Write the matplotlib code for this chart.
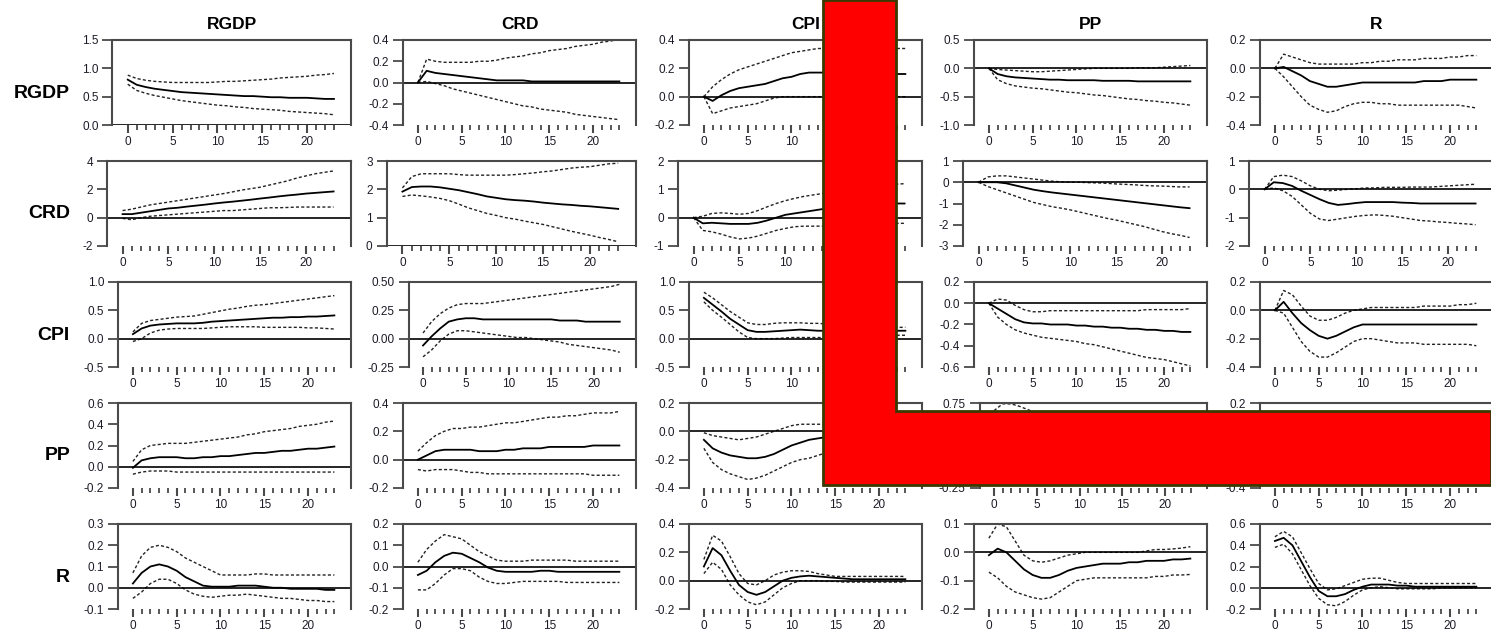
import numpy as np
import matplotlib.pyplot as plt
from matplotlib.patches import Polygon

plt.rcParams['font.family'] = ['Liberation Sans', 'DejaVu Sans']

variables = ['RGDP', 'CRD', 'CPI', 'PP', 'R']
steps = list(range(24))

# ---- row RGDP ----
rgdp_rgdp    = [0.80,0.71,0.67,0.64,0.62,0.60,0.58,0.57,0.56,0.55,0.54,0.53,0.52,0.51,0.51,0.50,0.49,0.49,0.48,0.48,0.48,0.47,0.46,0.46]
rgdp_rgdp_hi = [0.88,0.82,0.79,0.77,0.76,0.75,0.75,0.75,0.75,0.75,0.76,0.77,0.77,0.78,0.79,0.80,0.81,0.83,0.84,0.85,0.86,0.88,0.89,0.91]
rgdp_rgdp_lo = [0.72,0.61,0.56,0.52,0.49,0.46,0.43,0.41,0.39,0.37,0.35,0.34,0.32,0.31,0.29,0.28,0.27,0.26,0.24,0.23,0.22,0.21,0.20,0.18]

rgdp_crd    = [0.0,0.11,0.09,0.08,0.07,0.06,0.05,0.04,0.03,0.02,0.02,0.02,0.02,0.01,0.01,0.01,0.01,0.01,0.01,0.01,0.01,0.01,0.01,0.01]
rgdp_crd_hi = [0.0,0.22,0.20,0.19,0.19,0.19,0.19,0.20,0.20,0.21,0.23,0.24,0.25,0.27,0.28,0.30,0.31,0.32,0.34,0.35,0.36,0.38,0.39,0.41]
rgdp_crd_lo = [0.0,0.01,-0.01,-0.03,-0.06,-0.08,-0.10,-0.12,-0.14,-0.16,-0.18,-0.20,-0.22,-0.23,-0.25,-0.26,-0.27,-0.28,-0.30,-0.31,-0.32,-0.33,-0.34,-0.35]

rgdp_cpi    = [0.0,-0.03,0.01,0.04,0.06,0.07,0.08,0.09,0.11,0.13,0.14,0.16,0.17,0.17,0.17,0.17,0.17,0.17,0.17,0.17,0.17,0.17,0.16,0.16]
rgdp_cpi_hi = [0.0,0.07,0.12,0.16,0.19,0.21,0.23,0.25,0.27,0.29,0.31,0.32,0.33,0.34,0.34,0.34,0.35,0.35,0.35,0.35,0.35,0.35,0.34,0.34]
rgdp_cpi_lo = [0.0,-0.12,-0.10,-0.08,-0.07,-0.06,-0.05,-0.03,-0.01,0.0,0.0,0.0,0.0,0.0,0.0,0.0,0.0,0.0,0.0,0.0,0.0,0.0,0.0,0.0]

rgdp_pp    = [0.0,-0.10,-0.14,-0.16,-0.17,-0.18,-0.19,-0.20,-0.20,-0.21,-0.21,-0.21,-0.21,-0.22,-0.22,-0.22,-0.22,-0.23,-0.23,-0.23,-0.23,-0.23,-0.23,-0.23]
rgdp_pp_hi = [0.0,-0.02,-0.03,-0.04,-0.05,-0.06,-0.06,-0.05,-0.04,-0.03,-0.02,-0.01,0.0,0.0,0.0,0.0,0.0,0.01,0.01,0.01,0.02,0.03,0.04,0.05]
rgdp_pp_lo = [0.0,-0.20,-0.27,-0.31,-0.33,-0.35,-0.36,-0.38,-0.40,-0.42,-0.43,-0.45,-0.47,-0.48,-0.50,-0.52,-0.54,-0.55,-0.57,-0.58,-0.60,-0.61,-0.63,-0.65]

rgdp_r    = [0.0,0.01,-0.02,-0.05,-0.09,-0.11,-0.13,-0.13,-0.12,-0.11,-0.10,-0.10,-0.10,-0.10,-0.10,-0.10,-0.10,-0.09,-0.09,-0.09,-0.08,-0.08,-0.08,-0.08]
rgdp_r_hi = [0.0,0.10,0.08,0.06,0.04,0.03,0.03,0.03,0.03,0.03,0.04,0.04,0.05,0.05,0.06,0.06,0.06,0.07,0.07,0.07,0.08,0.08,0.09,0.09]
rgdp_r_lo = [0.0,-0.06,-0.13,-0.20,-0.26,-0.29,-0.31,-0.30,-0.27,-0.25,-0.24,-0.24,-0.25,-0.25,-0.26,-0.26,-0.26,-0.26,-0.26,-0.26,-0.26,-0.26,-0.27,-0.28]

# ---- row CRD ----
crd_rgdp    = [0.25,0.25,0.35,0.45,0.55,0.65,0.70,0.78,0.85,0.92,1.00,1.07,1.13,1.20,1.27,1.35,1.42,1.50,1.57,1.63,1.70,1.75,1.80,1.85]
crd_rgdp_hi = [0.50,0.60,0.75,0.90,1.00,1.10,1.20,1.30,1.40,1.50,1.60,1.70,1.82,1.95,2.05,2.15,2.30,2.45,2.60,2.80,2.95,3.10,3.20,3.30]
crd_rgdp_lo = [-0.05,-0.15,0.0,0.10,0.15,0.20,0.25,0.30,0.35,0.40,0.45,0.50,0.50,0.55,0.60,0.65,0.70,0.70,0.72,0.75,0.75,0.75,0.75,0.75]

crd_crd    = [1.92,2.08,2.10,2.10,2.07,2.02,1.97,1.90,1.83,1.75,1.70,1.65,1.62,1.60,1.57,1.53,1.50,1.47,1.45,1.42,1.40,1.37,1.34,1.31]
crd_crd_hi = [2.05,2.45,2.55,2.55,2.55,2.55,2.52,2.50,2.50,2.50,2.50,2.50,2.52,2.55,2.58,2.62,2.65,2.70,2.75,2.78,2.80,2.85,2.90,2.92]
crd_crd_lo = [1.75,1.80,1.77,1.73,1.68,1.60,1.48,1.35,1.25,1.15,1.08,1.00,0.95,0.88,0.82,0.76,0.68,0.60,0.52,0.45,0.38,0.30,0.23,0.15]

crd_cpi    = [0.0,-0.20,-0.18,-0.20,-0.22,-0.22,-0.22,-0.18,-0.10,0.0,0.10,0.15,0.20,0.25,0.30,0.35,0.40,0.43,0.45,0.47,0.50,0.50,0.50,0.50]
crd_cpi_hi = [0.0,0.05,0.15,0.17,0.15,0.12,0.15,0.25,0.38,0.50,0.60,0.68,0.75,0.80,0.85,0.90,0.95,1.00,1.05,1.10,1.12,1.15,1.18,1.20]
crd_cpi_lo = [0.0,-0.45,-0.50,-0.58,-0.68,-0.75,-0.72,-0.65,-0.55,-0.45,-0.38,-0.32,-0.30,-0.30,-0.30,-0.28,-0.27,-0.25,-0.24,-0.22,-0.20,-0.20,-0.20,-0.20]

crd_pp    = [0.0,0.0,0.0,-0.05,-0.15,-0.25,-0.35,-0.42,-0.48,-0.53,-0.58,-0.63,-0.68,-0.73,-0.78,-0.83,-0.88,-0.93,-0.98,-1.03,-1.08,-1.13,-1.18,-1.22]
crd_pp_hi = [0.0,0.25,0.30,0.30,0.25,0.20,0.15,0.10,0.05,0.02,0.0,0.0,-0.02,-0.03,-0.05,-0.08,-0.10,-0.12,-0.15,-0.17,-0.18,-0.20,-0.22,-0.22]
crd_pp_lo = [0.0,-0.20,-0.35,-0.50,-0.65,-0.80,-0.95,-1.05,-1.15,-1.22,-1.30,-1.40,-1.50,-1.60,-1.70,-1.78,-1.88,-1.98,-2.08,-2.20,-2.32,-2.42,-2.50,-2.60]

crd_r    = [0.0,0.25,0.22,0.12,-0.05,-0.20,-0.35,-0.48,-0.55,-0.52,-0.48,-0.45,-0.45,-0.45,-0.45,-0.47,-0.48,-0.50,-0.50,-0.50,-0.50,-0.50,-0.50,-0.50]
crd_r_hi = [0.0,0.45,0.50,0.45,0.30,0.12,0.0,-0.05,-0.03,0.0,0.02,0.05,0.05,0.07,0.07,0.07,0.08,0.08,0.08,0.10,0.12,0.14,0.16,0.18]
crd_r_lo = [0.0,0.05,-0.05,-0.25,-0.55,-0.85,-1.05,-1.10,-1.05,-1.00,-0.95,-0.92,-0.90,-0.92,-0.95,-1.00,-1.05,-1.10,-1.12,-1.15,-1.17,-1.20,-1.22,-1.25]

# ---- row CPI ----
cpi_rgdp    = [0.08,0.18,0.23,0.25,0.26,0.27,0.27,0.27,0.28,0.30,0.31,0.32,0.33,0.34,0.35,0.36,0.37,0.37,0.38,0.38,0.39,0.39,0.40,0.41]
cpi_rgdp_hi = [0.12,0.27,0.32,0.34,0.36,0.38,0.39,0.40,0.43,0.46,0.49,0.52,0.54,0.57,0.59,0.60,0.62,0.64,0.66,0.68,0.70,0.72,0.74,0.76]
cpi_rgdp_lo = [-0.05,0.0,0.10,0.15,0.17,0.18,0.18,0.18,0.18,0.19,0.20,0.21,0.21,0.21,0.21,0.20,0.20,0.20,0.20,0.20,0.19,0.19,0.18,0.17]

cpi_crd    = [-0.06,0.02,0.09,0.15,0.17,0.18,0.18,0.17,0.17,0.17,0.17,0.17,0.17,0.17,0.17,0.17,0.16,0.16,0.16,0.15,0.15,0.15,0.15,0.15]
cpi_crd_hi = [0.05,0.15,0.22,0.27,0.30,0.31,0.31,0.31,0.32,0.33,0.34,0.35,0.36,0.37,0.38,0.39,0.40,0.41,0.42,0.43,0.44,0.45,0.46,0.48]
cpi_crd_lo = [-0.16,-0.10,-0.02,0.04,0.07,0.07,0.06,0.05,0.04,0.03,0.02,0.01,0.01,0.0,-0.01,-0.02,-0.03,-0.05,-0.06,-0.07,-0.08,-0.09,-0.10,-0.12]

cpi_cpi    = [0.72,0.60,0.48,0.35,0.25,0.15,0.12,0.12,0.13,0.14,0.15,0.16,0.15,0.14,0.14,0.14,0.14,0.14,0.14,0.14,0.14,0.14,0.14,0.14]
cpi_cpi_hi = [0.82,0.72,0.60,0.48,0.38,0.28,0.25,0.25,0.27,0.28,0.28,0.28,0.27,0.27,0.26,0.26,0.25,0.25,0.24,0.24,0.23,0.22,0.20,0.20]
cpi_cpi_lo = [0.65,0.50,0.38,0.25,0.12,0.02,0.0,0.0,0.0,0.01,0.02,0.02,0.02,0.02,0.02,0.03,0.03,0.03,0.04,0.04,0.05,0.05,0.06,0.06]

cpi_pp    = [0.0,-0.05,-0.10,-0.15,-0.18,-0.19,-0.19,-0.20,-0.20,-0.20,-0.21,-0.21,-0.22,-0.22,-0.23,-0.23,-0.24,-0.24,-0.25,-0.25,-0.26,-0.26,-0.27,-0.27]
cpi_pp_hi = [0.0,0.04,0.03,-0.02,-0.06,-0.08,-0.08,-0.07,-0.07,-0.07,-0.07,-0.07,-0.07,-0.07,-0.07,-0.07,-0.07,-0.07,-0.06,-0.06,-0.06,-0.06,-0.06,-0.05]
cpi_pp_lo = [0.0,-0.13,-0.20,-0.25,-0.28,-0.30,-0.32,-0.33,-0.34,-0.35,-0.36,-0.38,-0.39,-0.41,-0.43,-0.45,-0.47,-0.49,-0.51,-0.52,-0.53,-0.55,-0.57,-0.59]

cpi_r    = [0.0,0.06,-0.02,-0.09,-0.14,-0.18,-0.20,-0.18,-0.15,-0.12,-0.10,-0.10,-0.10,-0.10,-0.10,-0.10,-0.10,-0.10,-0.10,-0.10,-0.10,-0.10,-0.10,-0.10]
cpi_r_hi = [0.0,0.14,0.11,0.03,-0.04,-0.07,-0.07,-0.05,-0.02,0.0,0.01,0.02,0.02,0.02,0.02,0.02,0.02,0.03,0.03,0.03,0.03,0.04,0.04,0.05]
cpi_r_lo = [0.0,-0.02,-0.12,-0.22,-0.29,-0.33,-0.33,-0.30,-0.26,-0.22,-0.20,-0.20,-0.21,-0.22,-0.23,-0.23,-0.23,-0.24,-0.24,-0.24,-0.24,-0.24,-0.24,-0.25]

# ---- row PP ----
pp_rgdp    = [-0.01,0.06,0.08,0.09,0.09,0.09,0.08,0.08,0.09,0.09,0.10,0.10,0.11,0.12,0.13,0.13,0.14,0.15,0.15,0.16,0.17,0.17,0.18,0.19]
pp_rgdp_hi = [0.05,0.16,0.20,0.21,0.22,0.22,0.22,0.23,0.24,0.25,0.26,0.27,0.28,0.30,0.31,0.33,0.34,0.35,0.36,0.38,0.39,0.40,0.42,0.43]
pp_rgdp_lo = [-0.07,-0.05,-0.04,-0.04,-0.04,-0.05,-0.05,-0.05,-0.05,-0.05,-0.05,-0.05,-0.05,-0.05,-0.05,-0.05,-0.05,-0.05,-0.05,-0.05,-0.05,-0.05,-0.05,-0.05]

pp_crd    = [0.0,0.03,0.06,0.07,0.07,0.07,0.07,0.06,0.06,0.06,0.07,0.07,0.08,0.08,0.08,0.09,0.09,0.09,0.09,0.09,0.10,0.10,0.10,0.10]
pp_crd_hi = [0.06,0.12,0.17,0.20,0.22,0.22,0.23,0.23,0.24,0.25,0.26,0.26,0.27,0.28,0.29,0.30,0.30,0.31,0.31,0.32,0.33,0.33,0.33,0.34]
pp_crd_lo = [-0.07,-0.08,-0.07,-0.07,-0.07,-0.08,-0.09,-0.09,-0.10,-0.10,-0.10,-0.10,-0.10,-0.10,-0.10,-0.10,-0.10,-0.10,-0.10,-0.10,-0.11,-0.11,-0.11,-0.11]

pp_cpi    = [-0.06,-0.12,-0.15,-0.17,-0.18,-0.19,-0.19,-0.18,-0.16,-0.13,-0.10,-0.08,-0.06,-0.05,-0.04,-0.03,-0.02,-0.02,-0.01,-0.01,-0.01,-0.01,0.0,0.0]
pp_cpi_hi = [-0.01,-0.03,-0.04,-0.05,-0.06,-0.05,-0.04,-0.02,0.0,0.02,0.04,0.05,0.05,0.05,0.05,0.05,0.04,0.04,0.04,0.03,0.03,0.03,0.03,0.03]
pp_cpi_lo = [-0.12,-0.22,-0.27,-0.30,-0.32,-0.34,-0.33,-0.31,-0.28,-0.25,-0.22,-0.20,-0.19,-0.17,-0.15,-0.13,-0.11,-0.10,-0.09,-0.08,-0.07,-0.06,-0.06,-0.05]

pp_pp    = [0.60,0.62,0.60,0.55,0.50,0.45,0.42,0.40,0.38,0.36,0.35,0.34,0.33,0.32,0.31,0.30,0.30,0.29,0.29,0.28,0.28,0.27,0.27,0.27]
pp_pp_hi = [0.66,0.74,0.74,0.71,0.67,0.63,0.60,0.58,0.56,0.55,0.54,0.53,0.53,0.52,0.52,0.52,0.52,0.52,0.52,0.52,0.52,0.52,0.52,0.52]
pp_pp_lo = [0.54,0.50,0.46,0.40,0.34,0.29,0.25,0.22,0.19,0.17,0.15,0.13,0.12,0.11,0.10,0.09,0.08,0.07,0.06,0.05,0.05,0.04,0.04,0.03]

pp_r    = [0.0,0.05,0.02,-0.03,-0.07,-0.10,-0.11,-0.10,-0.08,-0.06,-0.05,-0.05,-0.05,-0.05,-0.05,-0.05,-0.05,-0.05,-0.05,-0.05,-0.05,-0.05,-0.05,-0.05]
pp_r_hi = [0.0,0.12,0.10,0.05,0.0,-0.03,-0.03,-0.01,0.01,0.02,0.03,0.03,0.03,0.03,0.03,0.03,0.03,0.03,0.04,0.04,0.04,0.04,0.04,0.04]
pp_r_lo = [0.0,-0.02,-0.07,-0.12,-0.16,-0.19,-0.20,-0.19,-0.17,-0.15,-0.14,-0.14,-0.14,-0.14,-0.14,-0.14,-0.14,-0.14,-0.14,-0.14,-0.14,-0.14,-0.14,-0.14]

# ---- row R ----
r_rgdp    = [0.02,0.07,0.10,0.11,0.10,0.08,0.05,0.03,0.01,0.005,0.005,0.005,0.01,0.01,0.01,0.005,0.0,0.0,-0.005,-0.005,-0.005,-0.005,-0.01,-0.01]
r_rgdp_hi = [0.07,0.15,0.19,0.20,0.19,0.17,0.14,0.12,0.10,0.08,0.06,0.06,0.06,0.06,0.065,0.065,0.06,0.06,0.06,0.06,0.06,0.06,0.06,0.06]
r_rgdp_lo = [-0.05,-0.02,0.02,0.04,0.04,0.02,-0.01,-0.03,-0.04,-0.045,-0.04,-0.035,-0.035,-0.03,-0.035,-0.04,-0.045,-0.05,-0.05,-0.055,-0.06,-0.06,-0.065,-0.065]

r_crd    = [-0.04,-0.02,0.02,0.05,0.065,0.06,0.04,0.02,-0.005,-0.02,-0.025,-0.025,-0.025,-0.025,-0.02,-0.02,-0.025,-0.025,-0.025,-0.025,-0.025,-0.025,-0.025,-0.025]
r_crd_hi = [0.02,0.08,0.12,0.15,0.14,0.13,0.10,0.07,0.05,0.03,0.025,0.025,0.025,0.03,0.03,0.03,0.03,0.03,0.025,0.025,0.025,0.025,0.025,0.025]
r_crd_lo = [-0.11,-0.11,-0.08,-0.04,-0.01,-0.01,-0.02,-0.05,-0.07,-0.08,-0.08,-0.075,-0.07,-0.07,-0.07,-0.07,-0.07,-0.075,-0.075,-0.075,-0.075,-0.075,-0.075,-0.075]

r_cpi    = [0.10,0.23,0.18,0.07,-0.03,-0.08,-0.10,-0.08,-0.04,0.0,0.02,0.03,0.035,0.03,0.025,0.02,0.015,0.01,0.01,0.01,0.01,0.01,0.01,0.01]
r_cpi_hi = [0.15,0.32,0.28,0.17,0.05,-0.02,-0.03,0.0,0.04,0.06,0.07,0.07,0.065,0.05,0.04,0.03,0.03,0.03,0.03,0.03,0.03,0.03,0.03,0.03]
r_cpi_lo = [0.05,0.13,0.08,-0.03,-0.10,-0.15,-0.17,-0.15,-0.10,-0.05,-0.02,0.0,0.0,0.0,-0.005,-0.005,-0.01,-0.01,-0.01,-0.01,-0.01,-0.01,-0.01,-0.01]

r_pp    = [-0.01,0.013,0.0,-0.03,-0.06,-0.08,-0.09,-0.09,-0.08,-0.065,-0.055,-0.05,-0.045,-0.04,-0.04,-0.04,-0.035,-0.035,-0.03,-0.03,-0.03,-0.025,-0.025,-0.022]
r_pp_hi = [0.05,0.10,0.09,0.04,-0.01,-0.03,-0.035,-0.03,-0.02,-0.01,-0.005,0.0,0.0,0.0,0.0,0.0,0.0,0.0,0.005,0.01,0.01,0.012,0.015,0.02]
r_pp_lo = [-0.07,-0.09,-0.12,-0.14,-0.15,-0.16,-0.165,-0.16,-0.14,-0.12,-0.10,-0.095,-0.09,-0.09,-0.09,-0.09,-0.09,-0.09,-0.09,-0.085,-0.085,-0.08,-0.08,-0.078]

r_r    = [0.44,0.47,0.40,0.25,0.10,-0.03,-0.08,-0.08,-0.06,-0.02,0.01,0.03,0.03,0.03,0.02,0.02,0.01,0.01,0.01,0.01,0.01,0.01,0.01,0.01]
r_r_hi = [0.48,0.53,0.48,0.33,0.18,0.04,-0.02,-0.01,0.02,0.05,0.08,0.09,0.09,0.07,0.05,0.04,0.04,0.04,0.04,0.04,0.04,0.04,0.04,0.04]
r_r_lo = [0.38,0.41,0.32,0.17,0.02,-0.10,-0.16,-0.17,-0.13,-0.07,-0.02,0.0,0.01,0.0,-0.01,-0.01,-0.01,-0.01,-0.01,0.0,0.0,0.0,0.0,0.0]

# y ticks of every panel
yticks_rgdp = [[0, 0.5, 1.0, 1.5], [-0.4, -0.2, 0, 0.2, 0.4], [-0.2, 0, 0.2, 0.4],
               [-1.0, -0.5, 0, 0.5], [-0.4, -0.2, 0, 0.2]]
yticks_crd = [[-2, 0, 2, 4], [0, 1, 2, 3], [-1, 0, 1, 2], [-3, -2, -1, 0, 1], [-2, -1, 0, 1]]
yticks_cpi = [[-0.5, 0, 0.5, 1.0], [-0.25, 0, 0.25, 0.5], [-0.5, 0, 0.5, 1.0],
              [-0.6, -0.4, -0.2, 0, 0.2], [-0.4, -0.2, 0, 0.2]]
yticks_pp = [[-0.2, 0, 0.2, 0.4, 0.6], [-0.2, 0, 0.2, 0.4], [-0.4, -0.2, 0, 0.2],
             [-0.25, 0, 0.25, 0.5, 0.75], [-0.4, -0.2, 0, 0.2]]
yticks_r = [[-0.1, 0, 0.1, 0.2, 0.3], [-0.2, -0.1, 0, 0.1, 0.2], [-0.2, 0, 0.2, 0.4],
            [-0.2, -0.1, 0, 0.1], [-0.2, 0, 0.2, 0.4, 0.6]]
decimals = [[1, 1, 1, 1, 1], [0, 0, 0, 0, 0], [1, 2, 1, 1, 1], [1, 1, 1, 2, 1], [1, 1, 1, 1, 1]]

rows = [
    [(rgdp_rgdp, rgdp_rgdp_lo, rgdp_rgdp_hi), (rgdp_crd, rgdp_crd_lo, rgdp_crd_hi),
     (rgdp_cpi, rgdp_cpi_lo, rgdp_cpi_hi), (rgdp_pp, rgdp_pp_lo, rgdp_pp_hi),
     (rgdp_r, rgdp_r_lo, rgdp_r_hi)],
    [(crd_rgdp, crd_rgdp_lo, crd_rgdp_hi), (crd_crd, crd_crd_lo, crd_crd_hi),
     (crd_cpi, crd_cpi_lo, crd_cpi_hi), (crd_pp, crd_pp_lo, crd_pp_hi),
     (crd_r, crd_r_lo, crd_r_hi)],
    [(cpi_rgdp, cpi_rgdp_lo, cpi_rgdp_hi), (cpi_crd, cpi_crd_lo, cpi_crd_hi),
     (cpi_cpi, cpi_cpi_lo, cpi_cpi_hi), (cpi_pp, cpi_pp_lo, cpi_pp_hi),
     (cpi_r, cpi_r_lo, cpi_r_hi)],
    [(pp_rgdp, pp_rgdp_lo, pp_rgdp_hi), (pp_crd, pp_crd_lo, pp_crd_hi),
     (pp_cpi, pp_cpi_lo, pp_cpi_hi), (pp_pp, pp_pp_lo, pp_pp_hi),
     (pp_r, pp_r_lo, pp_r_hi)],
    [(r_rgdp, r_rgdp_lo, r_rgdp_hi), (r_crd, r_crd_lo, r_crd_hi),
     (r_cpi, r_cpi_lo, r_cpi_hi), (r_pp, r_pp_lo, r_pp_hi),
     (r_r, r_r_lo, r_r_hi)],
]
yticks = [yticks_rgdp, yticks_crd, yticks_cpi, yticks_pp, yticks_r]

W, H = 1491, 633
fig = plt.figure(figsize=(W / 100, H / 100), dpi=100)

right_px = [351, 636, 922, 1207, 1493]
top_px = [40, 161, 282, 403, 524]
ax_h = 85
band_style = (0, (2.2, 1.6))

def fmt(v, d):
    return f"{v:.{d}f}"

for i in range(5):
    for j in range(5):
        mid, lo, hi = rows[i][j]
        ticks = yticks[i][j]
        labels = [fmt(v, decimals[i][j]) for v in ticks]
        nch = max(len(s) for s in labels)
        width = 255 - 5.5 * nch
        left = right_px[j] - width
        ax = fig.add_axes([left / W, (H - top_px[i] - ax_h) / H, width / W, ax_h / H])

        ax.plot(steps, hi, color='#222222', lw=1.0, linestyle=band_style)
        ax.plot(steps, lo, color='#222222', lw=1.0, linestyle=band_style)
        ax.plot(steps, mid, color='black', lw=1.3)
        ax.axhline(0, color='black', lw=1.2)

        ax.set_xlim(-1.7, 24.9)
        ax.set_ylim(ticks[0], ticks[-1])
        ax.set_yticks(ticks)
        ax.set_yticklabels(labels)
        ax.set_xticks([0, 5, 10, 15, 20])
        ax.set_xticks([k for k in steps if k % 5], minor=True)

        for side in ['left', 'right', 'top']:
            ax.spines[side].set_color('#4a4a4a')
            ax.spines[side].set_linewidth(1.5)
        ax.spines['bottom'].set_visible(False)
        ax.tick_params(axis='y', direction='out', length=7, width=1.3, color='#4a4a4a',
                       labelsize=8.5, labelcolor='#1c1c28', pad=3)
        ax.tick_params(axis='x', which='major', direction='out', length=6, width=1.5,
                       color='#4a4a4a', labelsize=8.5, labelcolor='#1c1c28', pad=2)
        ax.tick_params(axis='x', which='minor', direction='out', length=3.5, width=1.3,
                       color='#4a4a4a')

        if i == 0:
            ax.set_title(variables[j], fontsize=12.5, fontweight='bold', pad=8)
        if j == 0:
            fig.text(70 / W, 1 - (top_px[i] + 53) / H, variables[i], ha='right', va='center',
                     fontsize=14, fontweight='bold')

# red L-shaped block laid over the grid
corners_px = [(823, 0), (896, 0), (896, 411), (1491, 411), (1491, 485), (823, 485)]
block = Polygon([(x / W, 1 - y / H) for x, y in corners_px], closed=True,
                transform=fig.transFigure, facecolor='#ff0000', edgecolor='#3a3a00',
                lw=2, zorder=20)
fig.add_artist(block)

fig.savefig('out.png', dpi=100)
